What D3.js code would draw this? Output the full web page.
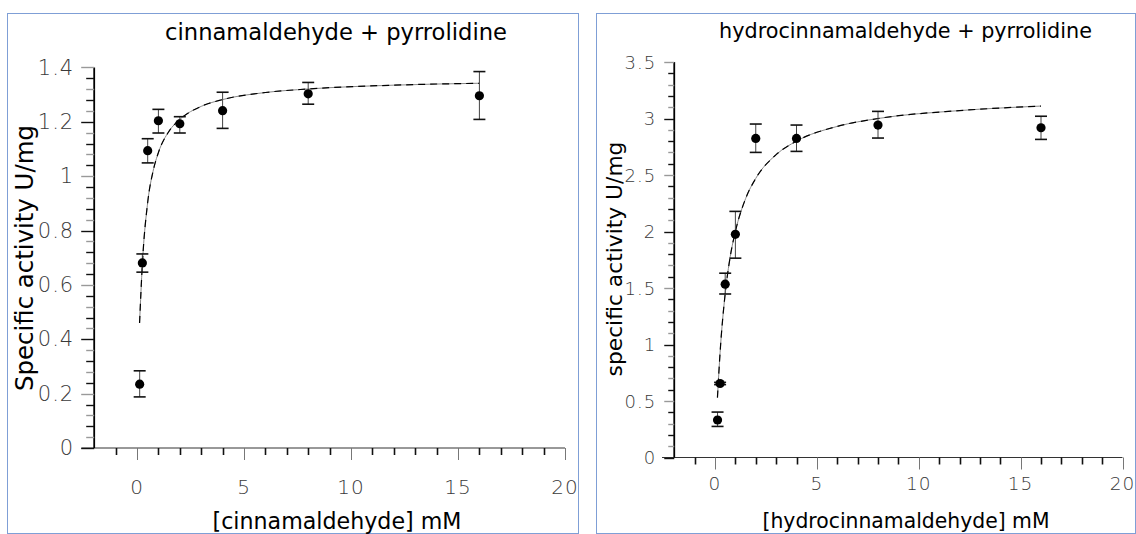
<!DOCTYPE html>
<html><head><meta charset="utf-8">
<script src="https://cdn.jsdelivr.net/npm/d3@7"></script>
<style>
html,body{margin:0;padding:0;background:#fff;}
svg{display:block;}
text{font-family:"DejaVu Sans",sans-serif;}
</style></head>
<body>
<svg id="chart" width="1136" height="534"></svg>
<script>
// ---------- DATA ----------
const cinnX      = [0.125, 0.25, 0.5, 1, 2, 4, 8, 16];
const cinnY      = [0.235, 0.681, 1.094, 1.204, 1.193, 1.241, 1.303, 1.296];
const cinnErrLo  = [0.188, 0.647, 1.049, 1.159, 1.159, 1.176, 1.265, 1.209];
const cinnErrHi  = [0.284, 0.714, 1.138, 1.246, 1.219, 1.309, 1.345, 1.385];
const cinnFitX   = [0.12, 0.25, 0.5, 0.75, 1, 1.5, 2, 3, 4, 6, 8, 12, 16];
const cinnFitY   = [0.46, 0.676, 0.904, 1.018, 1.087, 1.166, 1.209, 1.257, 1.282, 1.308, 1.321, 1.335, 1.342];
const cinnYTicks = [0, 0.2, 0.4, 0.6, 0.8, 1, 1.2, 1.4];

const hydroX      = [0.125, 0.25, 0.5, 1, 2, 4, 8, 16];
const hydroY      = [0.332, 0.655, 1.534, 1.975, 2.824, 2.824, 2.942, 2.918];
const hydroErrLo  = [0.275, 0.645, 1.447, 1.764, 2.700, 2.709, 2.827, 2.815];
const hydroErrHi  = [0.402, 0.665, 1.631, 2.178, 2.951, 2.942, 3.063, 3.020];
const hydroFitX   = [0.12, 0.25, 0.5, 0.75, 1, 1.5, 2, 3, 4, 6, 8, 12, 16];
const hydroFitY   = [0.53, 0.93, 1.45, 1.78, 2.00, 2.29, 2.47, 2.68, 2.80, 2.93, 3.00, 3.07, 3.11];
const hydroYTicks = [0, 0.5, 1, 1.5, 2, 2.5, 3, 3.5];

const xTicks = [0, 5, 10, 15, 20];

// ---------- DRAW ----------
const svg = d3.select("#chart");

function fitText(sel, target) {
  const n = sel.node();
  const fs = parseFloat(sel.attr("font-size"));
  const w = n.getComputedTextLength();
  sel.attr("font-size", (fs * target / w).toFixed(2));
}

function panel(cfg) {
  const g = svg.append("g");
  // border
  g.append("rect").attr("x", cfg.box[0] + 0.5).attr("y", cfg.box[1] + 0.5)
    .attr("width", cfg.box[2] - cfg.box[0]).attr("height", cfg.box[3] - cfg.box[1])
    .attr("fill", "none").attr("stroke", "#7f9fd6").attr("stroke-width", 1);

  const x = d3.scaleLinear().domain([0, 20]).range(cfg.xr);
  const y = d3.scaleLinear().domain(cfg.yd).range(cfg.yr);
  const axX = x(-2);

  // x axis line + ticks
  g.append("line").attr("x1", x(-2.6)).attr("x2", x(20)).attr("y1", y(0)).attr("y2", y(0))
    .attr("stroke", "#333").attr("stroke-width", 1);
  const xMinor = d3.range(-1, 21, 1);
  g.selectAll(".xt").data(xMinor).join("line")
    .attr("x1", d => Math.round(x(d)) + 0.5).attr("x2", d => Math.round(x(d)) + 0.5)
    .attr("y1", y(0)).attr("y2", d => y(0) + (d % 5 === 0 ? 12 : 7))
    .attr("stroke", d => d % 5 === 0 ? "#777" : "#111").attr("stroke-width", d => d % 5 === 0 ? 1 : 1.6);
  g.selectAll(".xl").data(xTicks).join("text")
    .attr("x", d => x(d)).attr("y", cfg.xLabY)
    .attr("text-anchor", "middle").attr("dominant-baseline", "central")
    .attr("font-size", cfg.xTickFs).attr("fill", "#3a3a3a").attr("font-weight", 200)
    .attr("letter-spacing", 1)
    .text(d => d);

  // y axis line + ticks
  g.append("line").attr("x1", axX).attr("x2", axX).attr("y1", y(0)).attr("y2", y(cfg.yd[1]))
    .attr("stroke", "#000").attr("stroke-width", 1.8);
  const yMinor = d3.range(0, Math.round(cfg.yd[1] / cfg.yMinor) + 1).map(i => i * cfg.yMinor);
  g.selectAll(".yt").data(yMinor).join("line")
    .attr("x1", axX).attr("x2", (d, i) => axX - (i % cfg.yEvery === 0 ? cfg.yMaj : cfg.yMin))
    .attr("y1", d => Math.round(y(d)) + 0.5).attr("y2", d => Math.round(y(d)) + 0.5)
    .attr("stroke", (d, i) => i % 2 ? "#999" : "#111").attr("stroke-width", 1.4);
  g.selectAll(".yl").data(cfg.yTicks).join("text")
    .attr("x", axX - cfg.yLabGap).attr("y", d => y(d))
    .attr("text-anchor", "end").attr("dominant-baseline", "central")
    .attr("font-size", cfg.yTickFs).attr("fill", "#3a3a3a").attr("font-weight", 200)
    .attr("letter-spacing", 1)
    .text(d => d);

  // fit curve
  const fit = cfg.fitX.map((v, i) => [v, cfg.fitY[i]]);
  const line = d3.line().x(d => x(d[0])).y(d => y(d[1])).curve(d3.curveMonotoneX);
  g.append("path").attr("d", line(fit)).attr("fill", "none").attr("stroke", "#888").attr("stroke-width", 1);
  g.append("path").attr("d", line(fit)).attr("fill", "none").attr("stroke", "#000").attr("stroke-width", 1.2)
    .attr("stroke-dasharray", "7 5");

  // error bars
  const pts = cfg.px.map((v, i) => ({x: v, y: cfg.py[i], lo: cfg.lo[i], hi: cfg.hi[i]}));
  g.selectAll(".eb").data(pts).join("line")
    .attr("x1", d => x(d.x)).attr("x2", d => x(d.x)).attr("y1", d => y(d.lo)).attr("y2", d => y(d.hi))
    .attr("stroke", "#444").attr("stroke-width", 1);
  ["lo", "hi"].forEach(k => {
    g.selectAll(".cap" + k).data(pts).join("line")
      .attr("x1", d => x(d.x) - 6).attr("x2", d => x(d.x) + 6)
      .attr("y1", d => y(d[k])).attr("y2", d => y(d[k]))
      .attr("stroke", "#111").attr("stroke-width", 1.6);
  });
  g.selectAll(".pt").data(pts).join("circle")
    .attr("cx", d => x(d.x)).attr("cy", d => y(d.y)).attr("r", 4.6).attr("fill", "#000");

  // titles
  const t = g.append("text").attr("x", cfg.title[1]).attr("y", cfg.title[2])
    .attr("text-anchor", "middle").attr("dominant-baseline", "central")
    .attr("font-size", 17).attr("fill", "#000").text(cfg.title[0]);
  fitText(t, cfg.title[3]);
  const xl = g.append("text").attr("x", cfg.xlab[1]).attr("y", cfg.xlab[2])
    .attr("text-anchor", "middle").attr("dominant-baseline", "central")
    .attr("font-size", 19).attr("fill", "#000").text(cfg.xlab[0]);
  fitText(xl, cfg.xlab[3]);
  const yl = g.append("text").attr("transform", `translate(${cfg.ylab[1]},${cfg.ylab[2]}) rotate(-90)`)
    .attr("text-anchor", "middle").attr("dominant-baseline", "central")
    .attr("font-size", 19).attr("fill", "#000").text(cfg.ylab[0]);
  fitText(yl, cfg.ylab[3]);
}

panel({
  box: [7, 13, 578, 533],
  xr: [137, 565], yd: [0, 1.4], yr: [448, 67.5],
  yMinor: 0.04, yEvery: 5, yMaj: 13, yMin: 8, yLabGap: 20,
  yTicks: cinnYTicks, yTickFs: 21, xTickFs: 20, xLabY: 487,
  px: cinnX, py: cinnY, lo: cinnErrLo, hi: cinnErrHi, fitX: cinnFitX, fitY: cinnFitY,
  title: ["cinnamaldehyde + pyrrolidine", 336, 32, 342],
  xlab: ["[cinnamaldehyde] mM", 337, 521, 249],
  ylab: ["Specific activity U/mg", 24, 258, 266]
});

panel({
  box: [596, 13, 1135, 533],
  xr: [715, 1122.5], yd: [0, 3.5], yr: [457.5, 62],
  yMinor: 0.1, yEvery: 5, yMaj: 10, yMin: 6, yLabGap: 18,
  yTicks: hydroYTicks, yTickFs: 18, xTickFs: 18.5, xLabY: 483,
  px: hydroX, py: hydroY, lo: hydroErrLo, hi: hydroErrHi, fitX: hydroFitX, fitY: hydroFitY,
  title: ["hydrocinnamaldehyde + pyrrolidine", 905.5, 31, 373],
  xlab: ["[hydrocinnamaldehyde] mM", 906, 521, 287],
  ylab: ["specific activity U/mg", 614, 259, 235]
});
</script>
</body></html>
